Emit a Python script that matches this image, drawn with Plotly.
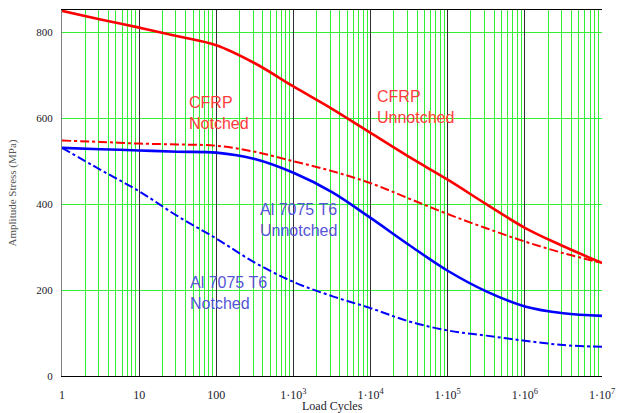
import plotly.graph_objects as go

# Load cycles (x) at half-decade steps
cycles = [1, 3.16, 10, 31.6, 100, 316, 1e3, 3.16e3, 1e4, 3.16e4, 1e5, 3.16e5, 1e6, 3.16e6, 1e7]

cfrp_unnotched = [850, 830, 811, 791, 770, 728, 674, 622, 566, 510, 457, 400, 345, 302, 263]
cfrp_notched = [548, 545, 541, 539, 536, 522, 500, 477, 449, 413, 377, 344, 313, 286, 263]
al_unnotched = [531, 528, 525, 522, 520, 505, 473, 428, 368, 305, 245, 197, 162, 146, 140]
al_notched = [531, 480, 430, 372, 320, 264, 219, 186, 158, 127, 106, 94, 82, 72, 68]

x_tick_vals = [1, 10, 100, 1e3, 1e4, 1e5, 1e6, 1e7]
x_tick_text = ["1", "10", "100", "1·10<sup>3</sup>", "1·10<sup>4</sup>", "1·10<sup>5</sup>",
               "1·10<sup>6</sup>", "1·10<sup>7</sup>"]
y_tick_vals = [0, 200, 400, 600, 800]

sub_grid_vals = [m * 10 ** k for k in range(7) for m in range(2, 10)]

fig = go.Figure()
fig.add_trace(go.Scatter(x=cycles, y=cfrp_unnotched, mode="lines", line=dict(color="#ff0000", width=2.6),
                         line_shape="spline", xaxis="x"))
fig.add_trace(go.Scatter(x=cycles, y=cfrp_notched, mode="lines", line=dict(color="#ff0000", width=2, dash="dashdot"),
                         line_shape="spline", xaxis="x"))
fig.add_trace(go.Scatter(x=cycles, y=al_unnotched, mode="lines", line=dict(color="#0000ff", width=2.6),
                         line_shape="spline", xaxis="x2"))
fig.add_trace(go.Scatter(x=cycles, y=al_notched, mode="lines", line=dict(color="#0000ff", width=2, dash="dashdot"),
                         line_shape="spline", xaxis="x2"))

red_txt = "#ff3c3c"
blue_txt = "#5555d8"
ann_font = dict(family="Liberation Sans, Arial, sans-serif", size=16)
annotations = [
    dict(x=1.62, y=660, text="CFRP<br>Notched", color=red_txt),
    dict(x=4.06, y=676, text="CFRP<br>Unnotched", color=red_txt),
    dict(x=2.54, y=413, text="Al 7075 T6<br>Unnotched", color=blue_txt),
    dict(x=1.63, y=242, text="Al 7075 T6<br>Notched", color=blue_txt),
]
for a in annotations:
    fig.add_annotation(x=a["x"], y=a["y"], xref="x", yref="y", text=a["text"], showarrow=False,
                       xanchor="left", yanchor="top", align="left",
                       font=dict(color=a["color"], **ann_font))

serif = "Liberation Serif, Times New Roman, serif"

fig.add_annotation(x=0.5, y=0, xref="paper", yref="paper", text="Load Cycles", showarrow=False,
                   xanchor="center", yanchor="top", yshift=-21,
                   font=dict(family=serif, size=12, color="#1a1a2a"))

fig.update_layout(
    template="none",
    width=619, height=413,
    margin=dict(l=62, r=17, t=10, b=37, autoexpand=False),
    plot_bgcolor="white", paper_bgcolor="white",
    showlegend=False,
    xaxis=dict(
        type="log", range=[0, 7], automargin=False,
        tickmode="array", tickvals=sub_grid_vals, showticklabels=False,
        ticks="",
        showgrid=True, gridcolor="#33ee33", gridwidth=1,
        showline=True, linecolor="black", linewidth=1, mirror=True,
        zeroline=False,
    ),
    xaxis2=dict(
        type="log", range=[0, 7], automargin=False,
        overlaying="x", anchor="y", side="bottom",
        tickmode="array", tickvals=x_tick_vals, ticktext=x_tick_text,
        tickfont=dict(family=serif, size=12, color="#1a1a2a"),
        ticks="", ticklabelstandoff=10,
        showgrid=True, gridcolor="#303030", gridwidth=1,
        showline=False, zeroline=False,
    ),
    yaxis=dict(
        range=[0, 852], automargin=False,
        tickmode="array", tickvals=y_tick_vals,
        tickfont=dict(family=serif, size=11, color="#1a1a2a"),
        ticks="", ticklabelstandoff=6,
        showgrid=True, gridcolor="#33ee33", gridwidth=1,
        showline=True, linecolor="#808080", linewidth=1,
        zeroline=False,
        title=dict(text="Amplitude Stress (MPa)", font=dict(family=serif, size=11, color="#555555"), standoff=17),
    ),
)

fig.write_html("out.html", config={"displayModeBar": False},
               post_script="document.body.style.margin='0';document.body.style.overflow='hidden';")
